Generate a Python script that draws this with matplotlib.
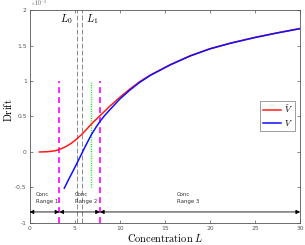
import matplotlib
matplotlib.use("Agg")
import matplotlib.pyplot as plt

plt.rcParams['mathtext.fontset'] = 'cm'
plt.rcParams['axes.unicode_minus'] = False

# Drift values in units of 1e-3
red_x = [1.1, 2.0, 2.8, 3.4, 4.0, 4.6, 5.2, 5.8, 6.4, 6.9, 7.8, 8.9, 10.0, 11.1, 12.2,
         13.4, 15.6, 17.8, 20.0, 22.3, 25.0, 27.5, 30.0]
red_y = [0.0, 0.004, 0.016, 0.04, 0.075, 0.12, 0.18, 0.25, 0.33, 0.40, 0.51, 0.645, 0.77,
         0.885, 0.99, 1.085, 1.23, 1.355, 1.455, 1.535, 1.615, 1.68, 1.74]
blue_x = [3.85, 4.3, 4.85, 5.6, 6.2, 6.9, 7.4, 7.8, 8.3, 8.9, 10.0, 11.1, 12.2, 13.4,
          15.6, 17.8, 20.0, 22.3, 25.0, 27.5, 30.0]
blue_y = [-0.51, -0.395, -0.26, -0.07, 0.085, 0.255, 0.355, 0.43, 0.51, 0.595, 0.745, 0.87,
          0.98, 1.08, 1.228, 1.353, 1.453, 1.533, 1.613, 1.678, 1.738]

L0, L1 = 5.3, 5.85
range_bounds = [0.0, 3.3, 7.8, 30.0]
green_x = 6.85
range_labels = ['Conc\nRange 1', 'Conc\nRange 2', 'Conc\nRange 3']
range_label_x = [0.7, 5.0, 16.3]
xticks = [0, 5, 10, 15, 20, 25, 30]
yticks = [-1, -0.5, 0, 0.5, 1, 1.5, 2]

fig = plt.figure(figsize=(3.05, 2.45), dpi=100)
ax = fig.add_axes([0.097, 0.09, 0.887, 0.869])

axcol = '#555555'
ax.plot(red_x, red_y, color='#ff1a1a', lw=1.1, label=r'$\tilde{V}$', zorder=3)
ax.plot(blue_x, blue_y, color='#1010ff', lw=1.1, label=r'$V$', zorder=4)

for xv in (L0, L1):
    ax.plot([xv, xv], [-1, 2], color='#888888', lw=0.7, dashes=(5, 2.2))
for xv in (range_bounds[1], range_bounds[2]):
    ax.plot([xv, xv], [-1, 1], color='#ff00ff', lw=1.2, dashes=(3.5, 2.5))
ax.plot([green_x, green_x], [-0.5, 1], color='#00ee00', lw=1.0, dashes=(0.7, 1.0))

ax.text(4.1, 1.87, r'$L_0$', fontsize=7.5, ha='center', va='center')
ax.text(6.9, 1.87, r'$L_1$', fontsize=7.5, ha='center', va='center')

ya = -0.845
for a, b in zip(range_bounds[:-1], range_bounds[1:]):
    ax.annotate('', xy=(a, ya), xytext=(b, ya),
                arrowprops=dict(arrowstyle='<|-|>', color='black', lw=0.6,
                                mutation_scale=6, shrinkA=0, shrinkB=0))
for xl, lab in zip(range_label_x, range_labels):
    ax.text(xl, -0.65, lab, fontsize=3.9, ha='left', va='center', color='#333333',
            linespacing=1.5)

ax.set_xlim(0, 30)
ax.set_ylim(-1, 2)
ax.set_xticks(xticks)
ax.set_yticks(yticks)
ax.set_xticklabels([f'{v:g}' for v in xticks])
ax.set_yticklabels([f'{v:g}' for v in yticks])
ax.tick_params(direction='in', length=2.5, width=0.5, labelsize=4.3, colors=axcol,
               top=True, right=True, pad=2)
for s in ax.spines.values():
    s.set_color(axcol)
    s.set_linewidth(0.6)

ax.text(0.0, 1.008, r'$\times10^{-3}$', transform=ax.transAxes, fontsize=4,
        color=axcol, ha='left', va='bottom')

ax.set_xlabel(r'$\mathrm{Concentration}\ L$', fontsize=7.5, labelpad=1)
ax.set_ylabel(r'$\mathrm{Drift}$', fontsize=7.5)
ax.yaxis.set_label_coords(-0.056, 0.53)

leg = ax.legend(loc='upper right', bbox_to_anchor=(0.982, 0.572), fontsize=6.5,
                frameon=True, fancybox=False, edgecolor='#555555', handlelength=2.0,
                borderpad=0.3, labelspacing=0.3, handletextpad=0.3, borderaxespad=0)
leg.get_frame().set_linewidth(0.5)

fig.savefig('out.png', dpi=100)
